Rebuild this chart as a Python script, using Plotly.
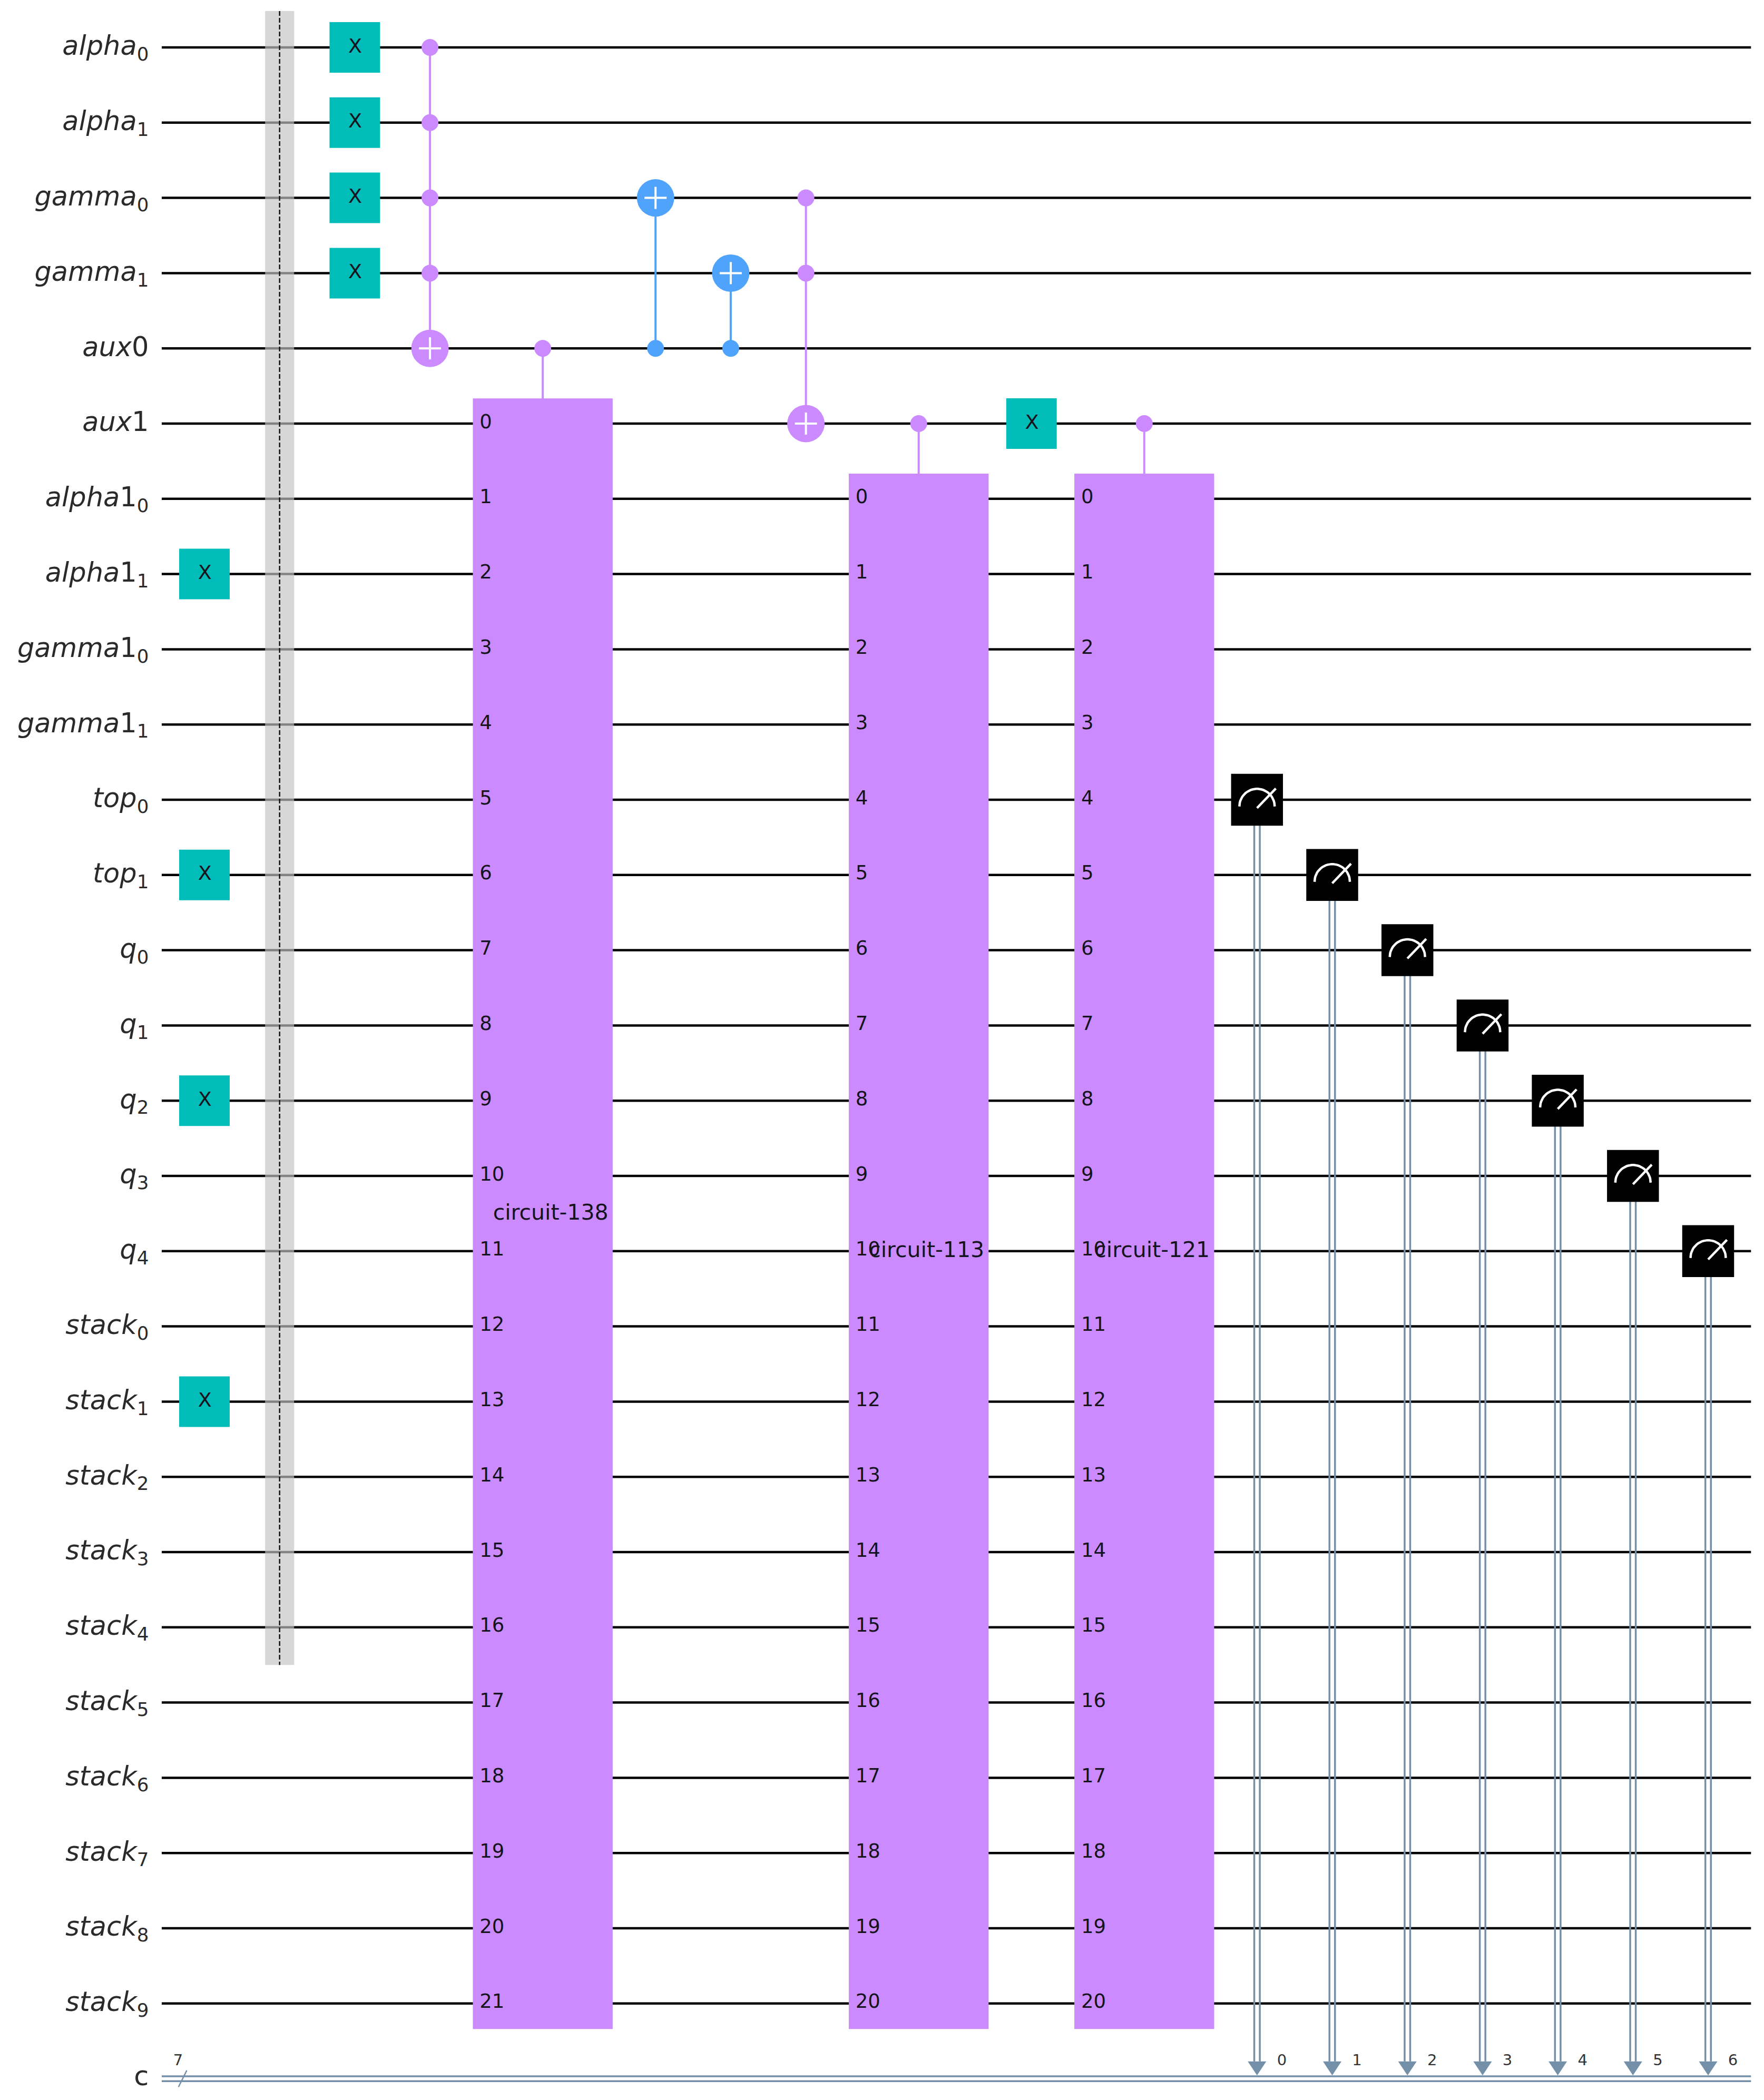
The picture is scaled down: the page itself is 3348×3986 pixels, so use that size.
import numpy as np
import plotly.graph_objects as go

# wires, top to bottom (index = wire number on the y axis)
wire_labels = [
    "<i>alpha</i><sub>0</sub>", "<i>alpha</i><sub>1</sub>",
    "<i>gamma</i><sub>0</sub>", "<i>gamma</i><sub>1</sub>",
    "<i>aux</i>0", "<i>aux</i>1",
    "<i>alpha</i>1<sub>0</sub>", "<i>alpha</i>1<sub>1</sub>",
    "<i>gamma</i>1<sub>0</sub>", "<i>gamma</i>1<sub>1</sub>",
    "<i>top</i><sub>0</sub>", "<i>top</i><sub>1</sub>",
    "<i>q</i><sub>0</sub>", "<i>q</i><sub>1</sub>", "<i>q</i><sub>2</sub>",
    "<i>q</i><sub>3</sub>", "<i>q</i><sub>4</sub>",
    "<i>stack</i><sub>0</sub>", "<i>stack</i><sub>1</sub>", "<i>stack</i><sub>2</sub>",
    "<i>stack</i><sub>3</sub>", "<i>stack</i><sub>4</sub>", "<i>stack</i><sub>5</sub>",
    "<i>stack</i><sub>6</sub>", "<i>stack</i><sub>7</sub>", "<i>stack</i><sub>8</sub>",
    "<i>stack</i><sub>9</sub>",
]
classical_wire = 27
classical_label = "c"
classical_size = "7"

# barrier
barrier_col = 1
barrier_first_wire = 0
barrier_last_wire = 21

# X gates
x_gate_cols = [0, 0, 0, 0, 2, 2, 2, 2, 11]
x_gate_wires = [7, 11, 14, 18, 0, 1, 2, 3, 5]

# controlled NOTs: column, control wires, target wire
purple_cx_cols = [3, 8]
purple_cx_controls = [[0, 1, 2, 3], [2, 3]]
purple_cx_targets = [4, 5]
blue_cx_cols = [6, 7]
blue_cx_controls = [[4], [4]]
blue_cx_targets = [2, 3]

# controlled sub-circuits
box_names = ["circuit-138", "circuit-113", "circuit-121"]
box_cols = [4.5, 9.5, 12.5]
box_first_wires = [5, 6, 6]
box_control_wires = [4, 5, 5]
box_last_wire = 26

# measurements
measure_cols = [14, 15, 16, 17, 18, 19, 20]
measure_wires = [10, 11, 12, 13, 14, 15, 16]
measure_bits = [0, 1, 2, 3, 4, 5, 6]

PURPLE = "#cb8bff"
BLUE = "#4fa3fb"
TEAL = "#00bdb9"
STEEL = "#7490a8"
FONT = "DejaVu Sans"

PX_COL = 142.7
PX_WIRE = 142.8
WIRE_START = -0.568
WIRE_END = 20.57

fig = go.Figure()


def add_lines(xs, ys, color, width, dash=None):
    fig.add_trace(go.Scatter(x=xs, y=ys, mode="lines", hoverinfo="skip",
                             line=dict(color=color, width=width, dash=dash)))


def add_rects(rects, color):
    # rects = (x0, x1, y0, y1); one filled trace split by None
    xs, ys = [], []
    for x0, x1, y0, y1 in rects:
        xs += [x0, x1, x1, x0, x0, None]
        ys += [y0, y0, y1, y1, y0, None]
    fig.add_trace(go.Scatter(x=xs, y=ys, mode="lines", fill="toself", fillcolor=color,
                             line=dict(color=color, width=0), hoverinfo="skip"))


def add_dots(xs, ys, color, size):
    fig.add_trace(go.Scatter(x=xs, y=ys, mode="markers", hoverinfo="skip",
                             marker=dict(color=color, size=size, line=dict(width=0))))


def add_text(xs, ys, texts, size, position, color="#15131c"):
    fig.add_trace(go.Scatter(x=xs, y=ys, mode="text", text=texts, textposition=position,
                             textfont=dict(family=FONT, size=size, color=color),
                             hoverinfo="skip"))


def add_cx(col, controls, target, color):
    add_lines([col, col], [min(controls + [target]), max(controls + [target])], color, 4)
    add_dots([col] * len(controls), controls, color, 32)
    add_dots([col], [target], color, 71)
    arm = 0.147
    add_lines([col - arm, col + arm, None, col, col],
              [target, target, None, target - arm, target + arm], "#ffffff", 4)


# quantum wires
wxs, wys = [], []
for i in range(len(wire_labels)):
    wxs += [WIRE_START, WIRE_END, None]
    wys += [i, i, None]
add_lines(wxs, wys, "#000000", 4.5)

# classical register
for off in [-0.033, 0.033]:
    add_lines([WIRE_START, WIRE_END], [classical_wire + off] * 2, STEEL, 3.5)
add_lines([-0.345, -0.235], [classical_wire + 0.11, classical_wire - 0.11], STEEL, 2.5)

# barrier band sits over the wires
bx0, bx1 = barrier_col - 0.193, barrier_col + 0.193
by0, by1 = barrier_first_wire - 0.483, barrier_last_wire + 0.5
add_rects([(bx0, bx1, by0, by1)], "rgba(195,195,195,0.67)")
add_lines([barrier_col, barrier_col], [by0, by1], "#111111", 2.5, dash="9px,4px")

# X gates
add_rects([(c - 0.336, c + 0.336, w - 0.336, w + 0.336)
           for c, w in zip(x_gate_cols, x_gate_wires)], TEAL)
add_text([c + 0.005 for c in x_gate_cols], x_gate_wires, ["X"] * len(x_gate_cols), 38,
         "middle center")

# controlled NOTs
for col, ctrl, tgt in zip(purple_cx_cols, purple_cx_controls, purple_cx_targets):
    add_cx(col, ctrl, tgt, PURPLE)
for col, ctrl, tgt in zip(blue_cx_cols, blue_cx_controls, blue_cx_targets):
    add_cx(col, ctrl, tgt, BLUE)

# controlled sub-circuit boxes
for name, col, first, ctrl in zip(box_names, box_cols, box_first_wires, box_control_wires):
    add_lines([col, col], [ctrl, first], PURPLE, 4)
    add_dots([col], [ctrl], PURPLE, 32)
    add_rects([(col - 0.93, col + 0.93, first - 0.335, box_last_wire + 0.34)], PURPLE)
    wires = list(range(first, box_last_wire + 1))
    add_text([col - 0.93 + 0.09] * len(wires), [w - 0.005 for w in wires],
             [str(i) for i in range(len(wires))], 37, "middle right")
    add_text([col + 0.105], [(first + box_last_wire) / 2 + 0.01], [name], 41, "middle center")

# measurements: double line down to the register, then box and dial on top
for col, wire, bit in zip(measure_cols, measure_wires, measure_bits):
    for off in [-0.037, 0.037]:
        add_lines([col + off, col + off], [wire, classical_wire - 0.23], STEEL, 3.5)
    fig.add_trace(go.Scatter(x=[col - 0.123, col + 0.123, col, col - 0.123],
                             y=[classical_wire - 0.23, classical_wire - 0.23,
                                classical_wire - 0.045, classical_wire - 0.23],
                             mode="lines", fill="toself", fillcolor=STEEL,
                             line=dict(color=STEEL, width=0), hoverinfo="skip"))
    add_text([col + 0.33], [classical_wire - 0.23], [str(bit)], 29, "middle center", "#333333")
add_rects([(c - 0.345, c + 0.345, w - 0.345, w + 0.345)
           for c, w in zip(measure_cols, measure_wires)], "#000000")
theta = np.linspace(0, np.pi, 30)
for col, wire in zip(measure_cols, measure_wires):
    add_lines(list(col + 0.235 * np.cos(theta)), list(wire + 0.09 - 0.235 * np.sin(theta)),
              "#ffffff", 4.5)
    add_lines([col, col + 0.25], [wire + 0.11, wire - 0.15], "#ffffff", 4.5)

# wire labels
add_text([-0.74] * len(wire_labels), [i + 0.012 for i in range(len(wire_labels))], wire_labels, 51,
         "middle left", "#2a2a2a")
add_text([-0.74], [classical_wire], [classical_label], 51, "middle left", "#2a2a2a")
add_text([-0.35], [classical_wire - 0.23], [classical_size], 29, "middle center", "#333333")

# body keeps its default 8px margin, so axes are set from page pixels
fig.update_layout(
    width=3332,
    height=3970,
    margin=dict(l=0, r=0, t=0, b=0),
    paper_bgcolor="#ffffff",
    plot_bgcolor="#ffffff",
    showlegend=False,
    xaxis=dict(visible=False, range=[(8 - 388) / PX_COL, (3340 - 388) / PX_COL]),
    yaxis=dict(visible=False, range=[(3978 - 90) / PX_WIRE, (8 - 90) / PX_WIRE]),
)

fig.write_html("out.html")
